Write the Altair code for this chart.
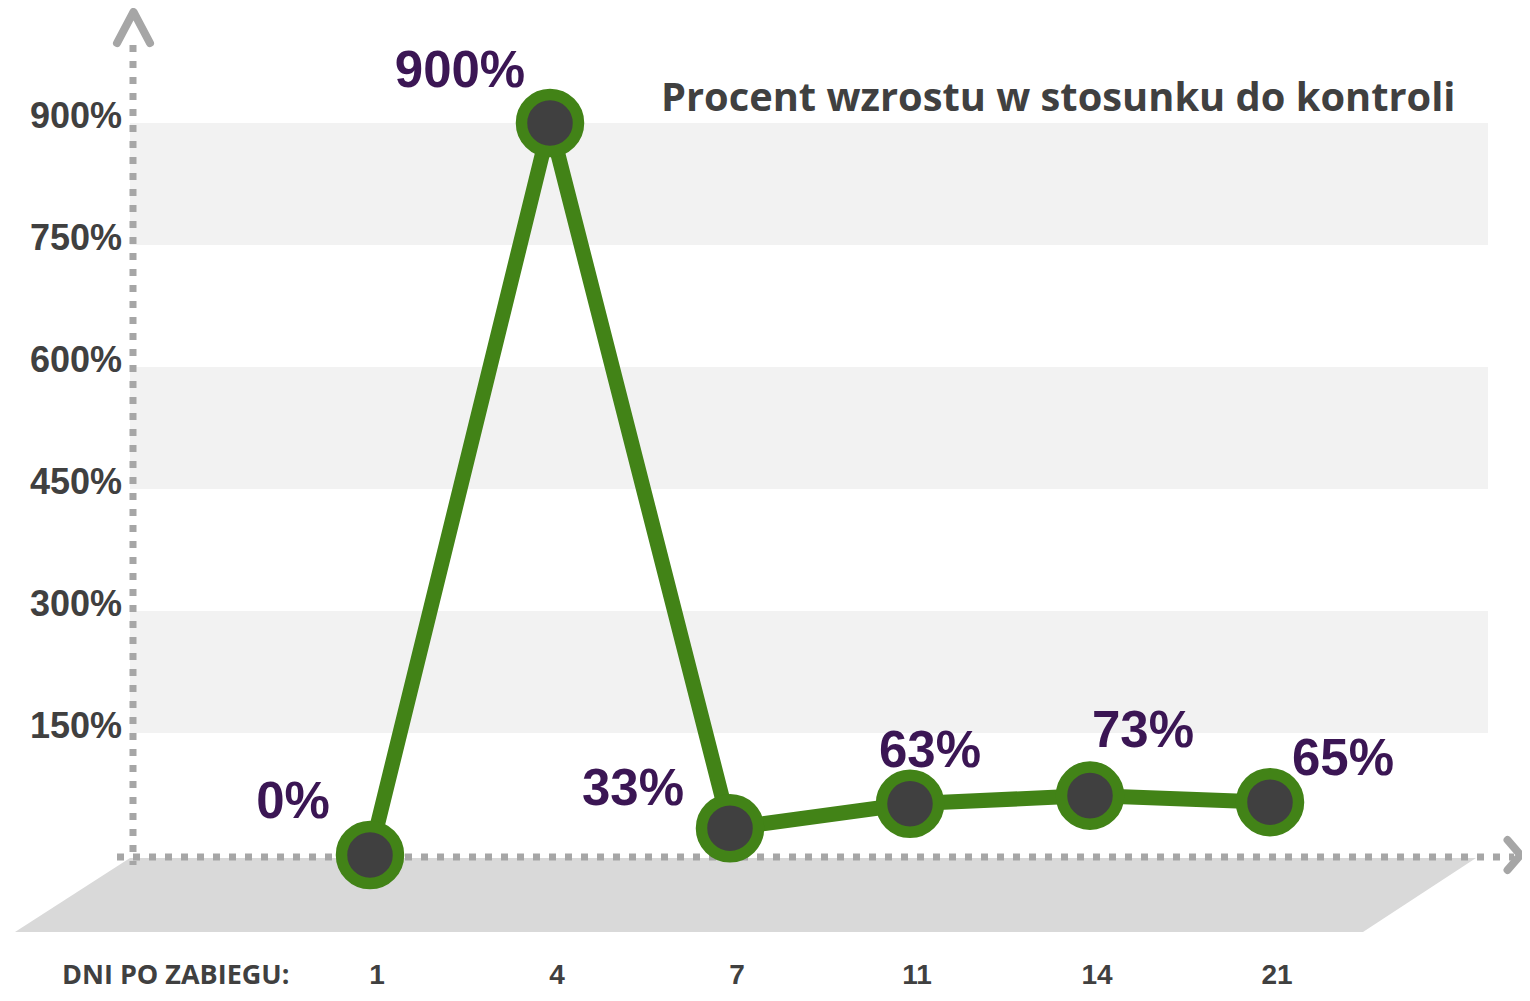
import altair as alt
import pandas as pd

# ---- data ----
days = ["1", "4", "7", "11", "14", "21"]
growth = [0, 900, 33, 63, 73, 65]
value_labels = ["0%", "900%", "33%", "63%", "73%", "65%"]
y_ticks = [150, 300, 450, 600, 750, 900]
y_tick_labels = ["150%", "300%", "450%", "600%", "750%", "900%"]
band_start = [150, 450, 750]
band_end = [300, 600, 900]
title_text = "Procent wzrostu w stosunku do kontroli"
x_caption = "DNI PO ZABIEGU:"

# ---- styling ----
W, H = 1514, 985
GREEN = "#428317"
DARK = "#404040"
PURPLE = "#3b1654"
AXIS_GRAY = "#a6a6a6"

pts = pd.DataFrame({"day": days, "growth": growth, "label": value_labels,
                    "idx": list(range(len(days)))})
ticks = pd.DataFrame({"v": y_ticks, "t": y_tick_labels})
bands = pd.DataFrame({"a": band_start, "b": band_end})

xs = alt.Scale(type="point", domain=days, range=[362, 1262], padding=0)
ys = alt.Scale(domain=[0, 900], range=[847, 115], nice=False, zero=False)
X = alt.X("day:N", scale=xs, axis=None)
Y = alt.Y("growth:Q", scale=ys, axis=None)

band_layer = alt.Chart(bands).mark_rect(color="#f2f2f2").encode(
    y=alt.Y("a:Q", scale=ys, axis=None), y2="b:Q",
    x=alt.value(122), x2=alt.value(1480))

floor = alt.Chart(pd.DataFrame({"k": [0]})).mark_point(
    shape="M -1 0.0507 L -0.8426 -0.0507 L 1 -0.0507 L 0.8453 0.0507 Z",
    filled=True, fill="#d9d9d9", strokeWidth=0, opacity=1, size=1461 * 1461
).encode(x=alt.value(737.5), y=alt.value(887))

vaxis = alt.Chart(pd.DataFrame({"k": [0]})).mark_rule(
    color=AXIS_GRAY, strokeWidth=7, strokeDash=[7, 9]
).encode(x=alt.value(125), y=alt.value(37), y2=alt.value(857))

haxis = alt.Chart(pd.DataFrame({"k": [0]})).mark_rule(
    color=AXIS_GRAY, strokeWidth=7, strokeDash=[7, 9]
).encode(y=alt.value(849), x=alt.value(109), x2=alt.value(1506))

up_arrow = alt.Chart(pd.DataFrame({"k": [0]})).mark_point(
    shape="M -1 0.94 L 0 -0.94 L 1 0.94", filled=False, stroke=AXIS_GRAY,
    strokeWidth=8, strokeCap="round", strokeJoin="round", opacity=1, size=1089
).encode(x=alt.value(125.5), y=alt.value(19.5))

right_arrow = alt.Chart(pd.DataFrame({"k": [0]})).mark_point(
    shape="M -0.43 -1 L 0.43 0 L -0.43 1", filled=False, stroke=AXIS_GRAY,
    strokeWidth=8, strokeCap="round", strokeJoin="round", opacity=1, size=900
).encode(x=alt.value(1506), y=alt.value(847))

line = alt.Chart(pts).mark_line(color=GREEN, strokeWidth=15).encode(
    x=X, y=Y, order="idx:Q")

points = alt.Chart(pts).mark_point(
    shape="circle", filled=True, fill=DARK, stroke=GREEN, strokeWidth=11.5,
    size=3250, opacity=1).encode(x=X, y=Y)

ytext = alt.Chart(ticks).mark_text(
    align="right", baseline="middle", font="Liberation Sans", fontWeight="bold",
    fontSize=36, color=DARK, dy=-6).encode(
    x=alt.value(114), y=alt.Y("v:Q", scale=ys, axis=None), text="t:N")

xtext = alt.Chart(pts).mark_text(
    align="center", baseline="alphabetic", font="Liberation Sans", fontWeight="bold",
    fontSize=28, color=DARK, dx=7).encode(
    x=X, y=alt.value(976), text="day:N")

caption = alt.Chart(pd.DataFrame({"t": [x_caption]})).mark_text(
    align="left", baseline="alphabetic", font="Open Sans", fontWeight="bold",
    fontSize=27, color=DARK).encode(x=alt.value(54), y=alt.value(976), text="t:N")

title = alt.Chart(pd.DataFrame({"t": [title_text]})).mark_text(
    align="left", baseline="alphabetic", font="Open Sans", fontWeight="bold",
    fontSize=39.8, color=DARK).encode(x=alt.value(653), y=alt.value(103), text="t:N")

label_dx = [-77, -90, -97, 20, 53, 73]
label_dy = [-52, -51, -38, -52, -64, -42]
label_layers = []
for i in range(len(days)):
    label_layers.append(
        alt.Chart(pts).transform_filter(alt.datum.idx == i).mark_text(
            align="center", baseline="middle", font="Liberation Sans",
            fontWeight="bold", fontSize=51, color=PURPLE,
            dx=label_dx[i], dy=label_dy[i]).encode(x=X, y=Y, text="label:N"))

chart = alt.layer(
    band_layer, floor, haxis, vaxis, up_arrow, right_arrow,
    line, points, ytext, xtext, caption, title, *label_layers
).properties(
    width=W, height=H, autosize=alt.AutoSizeParams(type="none"), padding=0
).configure_view(stroke=None)

chart.save("out.html", embed_options={"renderer": "svg", "actions": False})
